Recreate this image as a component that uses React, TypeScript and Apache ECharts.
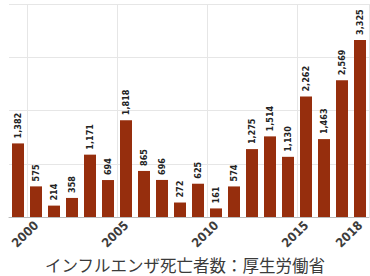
import React, { useEffect, useRef } from "react";
import * as echarts from "echarts";

const years = ["1999","2000","2001","2002","2003","2004","2005","2006","2007","2008","2009","2010","2011","2012","2013","2014","2015","2016","2017","2018"];
const deaths = [1382, 575, 214, 358, 1171, 694, 1818, 865, 696, 272, 625, 161, 574, 1275, 1514, 1130, 2262, 1463, 2569, 3325];
const shownYears = ["2000", "2005", "2010", "2015", "2018"];
const caption = "インフルエンザ死亡者数：厚生労働省";

export default function App() {
  const ref = useRef<HTMLDivElement>(null);
  useEffect(() => {
    if (!ref.current) return;
    const chart = echarts.init(ref.current, null, { renderer: "svg" });
    chart.setOption({
      animation: false,
      title: {
        text: caption,
        left: "center",
        top: 252,
        textStyle: { fontFamily: "Noto Sans CJK JP", fontSize: 16.5, fontWeight: "normal", color: "#3a3a3a" },
      },
      grid: { left: 9, right: 1, top: 4, bottom: 59 },
      xAxis: {
        type: "category",
        data: years,
        boundaryGap: true,
        axisLine: { show: true, lineStyle: { color: "#bbb", width: 1 } },
        axisTick: { show: false },
        axisLabel: {
          interval: (i: number, v: string) => shownYears.includes(v),
          rotate: 45,
          margin: 6,
          fontSize: 12.5,
          fontWeight: "bold",
          fontFamily: "DejaVu Sans Condensed, Liberation Sans, sans-serif",
          color: "#3c3c3c",
        },
        splitLine: {
          show: true,
          interval: (i: number) => i % 5 === 1,
          lineStyle: { color: "#e6e6e6", width: 1 },
        },
      },
      yAxis: {
        type: "value",
        min: 0,
        max: 4000,
        interval: 1000,
        axisLabel: { show: false },
        axisLine: { show: false },
        axisTick: { show: false },
        splitLine: { lineStyle: { color: "#e6e6e6", width: 1 } },
      },
      series: [
        {
          type: "bar",
          data: deaths,
          barWidth: 12,
          itemStyle: { color: "#962e0d" },
          label: {
            show: true,
            position: "top",
            rotate: 90,
            align: "left",
            verticalAlign: "middle",
            distance: 5,
            fontSize: 9,
            fontWeight: "bold",
            fontFamily: "DejaVu Sans Condensed, Liberation Sans Narrow, sans-serif",
            color: "#222",
            formatter: (p: any) => Number(p.value).toLocaleString("en-US"),
          },
        },
      ],
    });
    return () => chart.dispose();
  }, []);
  return <div ref={ref} style={{ width: 370, height: 276, position: "absolute", left: 0, top: 0 }} />;
}
